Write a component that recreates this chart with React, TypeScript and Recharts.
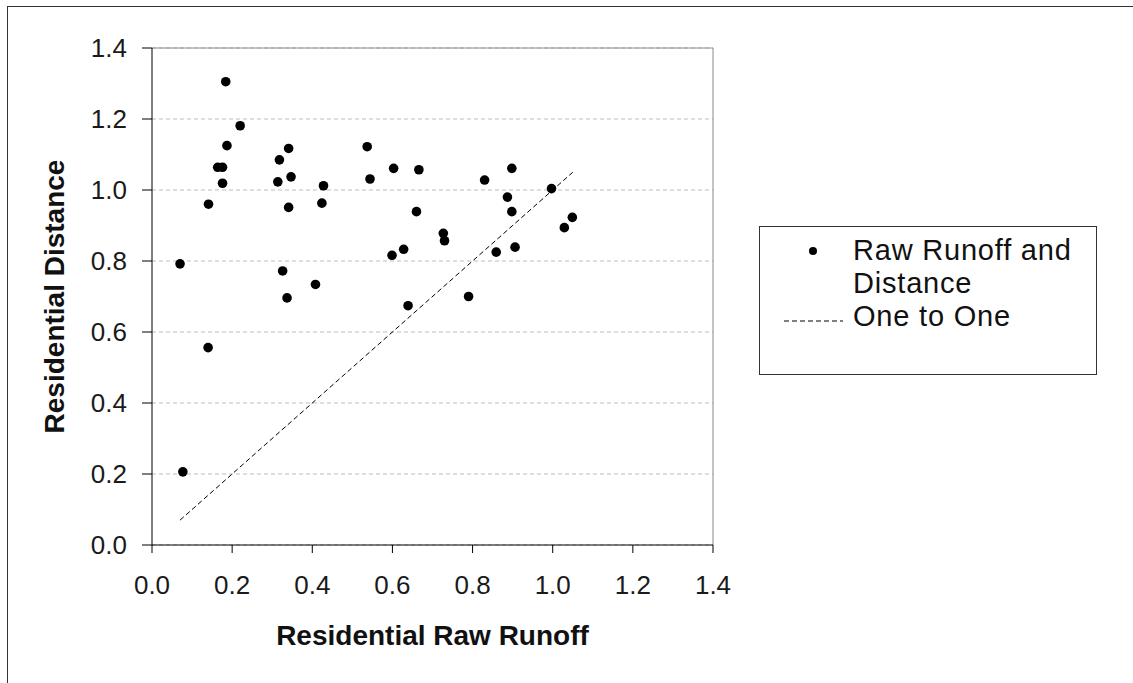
import React from 'react';
import {
  ScatterChart,
  Scatter,
  XAxis,
  YAxis,
  CartesianGrid,
  ReferenceLine,
  Legend,
  Label,
} from 'recharts';

// values
const runoff = [
  0.184, 0.22, 0.187, 0.164, 0.176, 0.176, 0.141, 0.07, 0.318, 0.341,
  0.314, 0.347, 0.341, 0.428, 0.424, 0.326, 0.408, 0.337, 0.537, 0.544,
  0.603, 0.666, 0.66, 0.727, 0.73, 0.628, 0.599, 0.83, 0.898, 0.887,
  0.898, 0.997, 1.049, 1.029, 0.859, 0.906, 0.79, 0.639, 0.14, 0.077,
];
const distance = [
  1.305, 1.181, 1.125, 1.064, 1.064, 1.019, 0.96, 0.792, 1.085, 1.117,
  1.023, 1.037, 0.951, 1.012, 0.963, 0.772, 0.734, 0.696, 1.122, 1.031,
  1.061, 1.057, 0.939, 0.878, 0.857, 0.833, 0.816, 1.028, 1.061, 0.98,
  0.939, 1.004, 0.923, 0.894, 0.825, 0.839, 0.7, 0.674, 0.556, 0.206,
];
const oneToOne = [0.07, 1.05];
const ticks = [0, 0.2, 0.4, 0.6, 0.8, 1.0, 1.2, 1.4];

const points = runoff.map((x, i) => ({ x, y: distance[i] }));
const lineData = oneToOne.map((v) => ({ x: v, y: v }));

const FONT = 'Arial, "Liberation Sans", sans-serif';
const fmt = (v: number) => v.toFixed(1);

const Dot = (props: any) => {
  const { cx, cy } = props;
  if (cx == null || cy == null) return null;
  return <circle cx={cx} cy={cy} r={4.8} fill="#000" />;
};

const NoDot = () => null;

const LegendBox = () => (
  <div
    style={{
      position: 'relative',
      width: 338,
      height: 149,
      border: '1px solid #333',
      boxSizing: 'border-box',
      background: '#fff',
      fontFamily: FONT,
      fontSize: 29,
      letterSpacing: 0.8,
      color: '#111',
    }}
  >
    <svg width={338} height={149} style={{ position: 'absolute', left: 0, top: 0 }}>
      <circle cx={53} cy={24} r={4} fill="#000" />
      <line x1={24} y1={94} x2={83} y2={94} stroke="#000" strokeWidth={1} strokeDasharray="5 3" />
    </svg>
    <div style={{ position: 'absolute', left: 93, top: 7, lineHeight: '33px' }}>
      Raw Runoff and
      <br />
      Distance
      <br />
      One to One
    </div>
  </div>
);

const YTitle = (props: any) => {
  const vb = props.viewBox;
  const cx = vb.x + 54;
  const cy = vb.y + vb.height / 2;
  return (
    <text
      x={cx}
      y={cy}
      transform={`rotate(-90, ${cx}, ${cy})`}
      textAnchor="middle"
      dominantBaseline="central"
      fontFamily={FONT}
      fontSize={28}
      fontWeight="bold"
      fill="#111"
    >
      Residential Distance
    </text>
  );
};

const XTitle = (props: any) => {
  const vb = props.viewBox;
  return (
    <text
      x={vb.x + vb.width / 2}
      y={vb.y + 100}
      textAnchor="middle"
      fontFamily={FONT}
      fontSize={28}
      fontWeight="bold"
      fill="#111"
    >
      Residential Raw Runoff
    </text>
  );
};

export default function App() {
  return (
    <div
      style={{
        position: 'absolute',
        left: 0,
        top: 0,
        width: 1133,
        height: 683,
        overflow: 'hidden',
        background: '#fff',
      }}
    >
      <div
        style={{
          position: 'absolute',
          left: 7,
          top: 6,
          width: 1150,
          height: 700,
          borderLeft: '1px solid #333',
          borderTop: '1px solid #333',
        }}
      />
      <div style={{ position: 'absolute', left: 0, top: 0 }}>
        <ScatterChart
          width={1133}
          height={683}
          margin={{ top: 48, right: 420, bottom: 0, left: 0 }}
        >
          <CartesianGrid
            vertical={false}
            stroke="#bdbdbd"
            strokeDasharray="4 3"
          />
          <XAxis
            type="number"
            dataKey="x"
            domain={[0, 1.4]}
            ticks={ticks}
            tickFormatter={fmt}
            height={138}
            tickSize={8}
            tickMargin={23}
            stroke="#000"
            tick={{ fill: '#1a1a1a', fontSize: 26, fontFamily: FONT }}
            allowDataOverflow
          >
            <Label content={<XTitle />} />
          </XAxis>
          <YAxis
            type="number"
            dataKey="y"
            domain={[0, 1.4]}
            ticks={ticks}
            tickFormatter={fmt}
            width={152}
            tickSize={10}
            tickMargin={15}
            stroke="#000"
            tick={{ fill: '#1a1a1a', fontSize: 26, fontFamily: FONT }}
            allowDataOverflow
          >
            <Label content={<YTitle />} />
          </YAxis>
          <ReferenceLine y={1.4} stroke="#8a8a8a" />
          <ReferenceLine x={1.4} stroke="#8a8a8a" />
          <Legend
            layout="vertical"
            align="center"
            verticalAlign="middle"
            content={<LegendBox />}
            wrapperStyle={{ left: 759, top: 226, width: 338, height: 149 }}
          />
          <Scatter
            name="One to One"
            data={lineData}
            line={{ stroke: '#000', strokeWidth: 1, strokeDasharray: '5 3' }}
            shape={<NoDot />}
            isAnimationActive={false}
          />
          <Scatter
            name="Raw Runoff and Distance"
            data={points}
            shape={<Dot />}
            isAnimationActive={false}
          />
        </ScatterChart>
      </div>
    </div>
  );
}
